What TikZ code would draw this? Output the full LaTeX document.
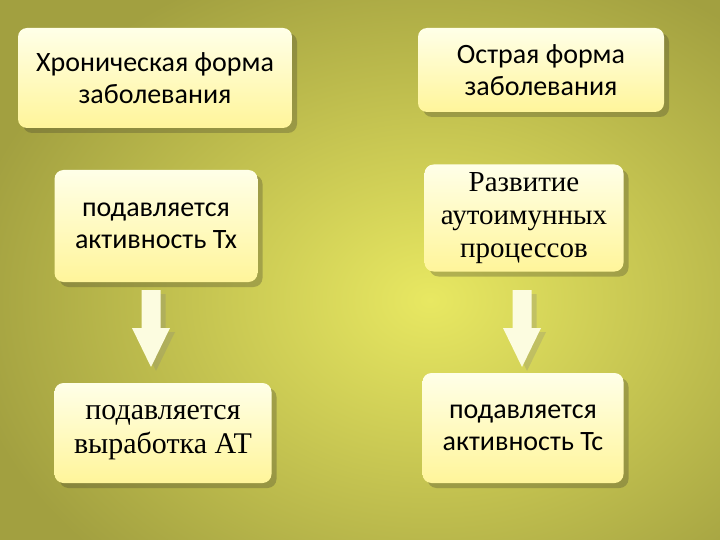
\documentclass[tikz,border=0pt]{standalone}
\usepackage{fontspec}
\setmainfont{Carlito}
\newfontfamily\serifont{Liberation Serif}
\usetikzlibrary{shadows}
\definecolor{bgin}{HTML}{E8E862}
\definecolor{bgout}{HTML}{A2A040}
\definecolor{boxtop}{HTML}{FFFFE8}
\definecolor{boxbot}{HTML}{FFF59A}
\definecolor{arr}{HTML}{FCFCE0}
\tikzset{
  card/.style={rounded corners=9pt, top color=boxtop, bottom color=boxbot, draw=none,
    drop shadow={shadow xshift=5pt, shadow yshift=-5pt, opacity=0.3, fill=black!70!olive},
    align=center, font=\fontsize{28}{32}\selectfont, inner sep=0pt},
  downarrow/.style={fill=arr, draw=none, drop shadow={shadow xshift=5pt, shadow yshift=-4pt, opacity=0.25}}
}
\begin{document}
\begin{tikzpicture}[x=1pt,y=-1pt]
\useasboundingbox (0,0) rectangle (720,540);
\shade[inner color=bgin, outer color=bgout] (-40,-60) rectangle (900,660);
\node[card, minimum width=274pt, minimum height=100pt] (b1) at (155,78) {Хроническая форма\\заболевания};
\node[card, minimum width=246pt, minimum height=84pt] (b2) at (541,70) {Острая форма\\заболевания};
\node[card, minimum width=203pt, minimum height=112pt] (b3) at (156,226) {подавляется\\активность Тх};
\node[card, minimum width=199pt, minimum height=107pt, font=\serifont\fontsize{29}{33}\selectfont] (b4) at (524,218) {Развитие\\аутоимунных\\процессов};
\node[card, minimum width=217pt, minimum height=100pt, font=\serifont\fontsize{30}{34}\selectfont] (b5) at (163,433) {подавляется\\выработка АТ};
\node[card, minimum width=201pt, minimum height=110pt] (b6) at (523,428) {подавляется\\активность Тс};
\coordinate (a1) at (151,290);
\coordinate (a2) at (522,290);
\foreach \c in {a1,a2}{
  \fill[downarrow] (\c) ++(-9.5,0) -- ++(19,0) -- ++(0,38) -- ++(9.5,0) -- ++(-19,39) -- ++(-19,-39) -- ++(9.5,0) -- cycle;
}
\end{tikzpicture}
\end{document}
